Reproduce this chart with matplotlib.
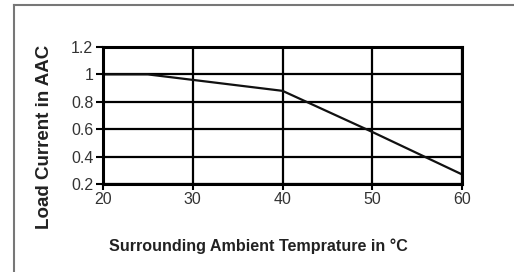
import matplotlib
matplotlib.use("Agg")
import matplotlib.pyplot as plt
from matplotlib.lines import Line2D

plt.rcParams['font.family'] = ['Liberation Sans', 'DejaVu Sans']

temps = [20, 25, 40, 50, 60]
current = [1.0, 1.0, 0.88, 0.58, 0.27]
xticks = [20, 30, 40, 50, 60]
yticks = [0.2, 0.4, 0.6, 0.8, 1.0, 1.2]
ytick_labels = ["0.2", "0.4", "0.6", "0.8", "1", "1.2"]

W, H = 514, 272
fig = plt.figure(figsize=(W / 100, H / 100), dpi=100)
fig.patch.set_facecolor("white")

# outer frame (left + top edges)
fig.add_artist(Line2D([14 / W, 14 / W], [0, 1 - 5 / H], transform=fig.transFigure, color="#777777", lw=1.5))
fig.add_artist(Line2D([14 / W, 1], [1 - 5 / H, 1 - 5 / H], transform=fig.transFigure, color="#777777", lw=1.5))

left, right, top, bottom = 103, 462, 47, 184
ax = fig.add_axes([left / W, 1 - bottom / H, (right - left) / W, (bottom - top) / H])
ax.plot(temps, current, color="#111111", lw=1.6, solid_joinstyle="miter")
ax.set_xlim(20, 60)
ax.set_ylim(0.2, 1.2)
ax.set_xticks(xticks)
ax.set_yticks(yticks)
ax.set_yticklabels(ytick_labels)
ax.grid(True, color="black", lw=1.6)
ax.set_axisbelow(True)
for s in ax.spines.values():
    s.set_linewidth(2.2)
    s.set_color("black")
ax.tick_params(axis="both", labelsize=11.5, colors="black", labelcolor="#333333", width=1.5)
ax.tick_params(axis="y", length=5, pad=2)
ax.tick_params(axis="x", length=4, pad=2)

fig.text(258 / W, 1 - 246 / H, "Surrounding Ambient Temprature in °C", ha="center", va="center",
         fontsize=11.6, fontweight="bold", color="#222222")
fig.text(45 / W, 1 - 137 / H, "Load Current in AAC", ha="center", va="center", rotation=90,
         fontsize=13.5, fontweight="bold", color="#222222")

fig.savefig("out.png", dpi=100)
